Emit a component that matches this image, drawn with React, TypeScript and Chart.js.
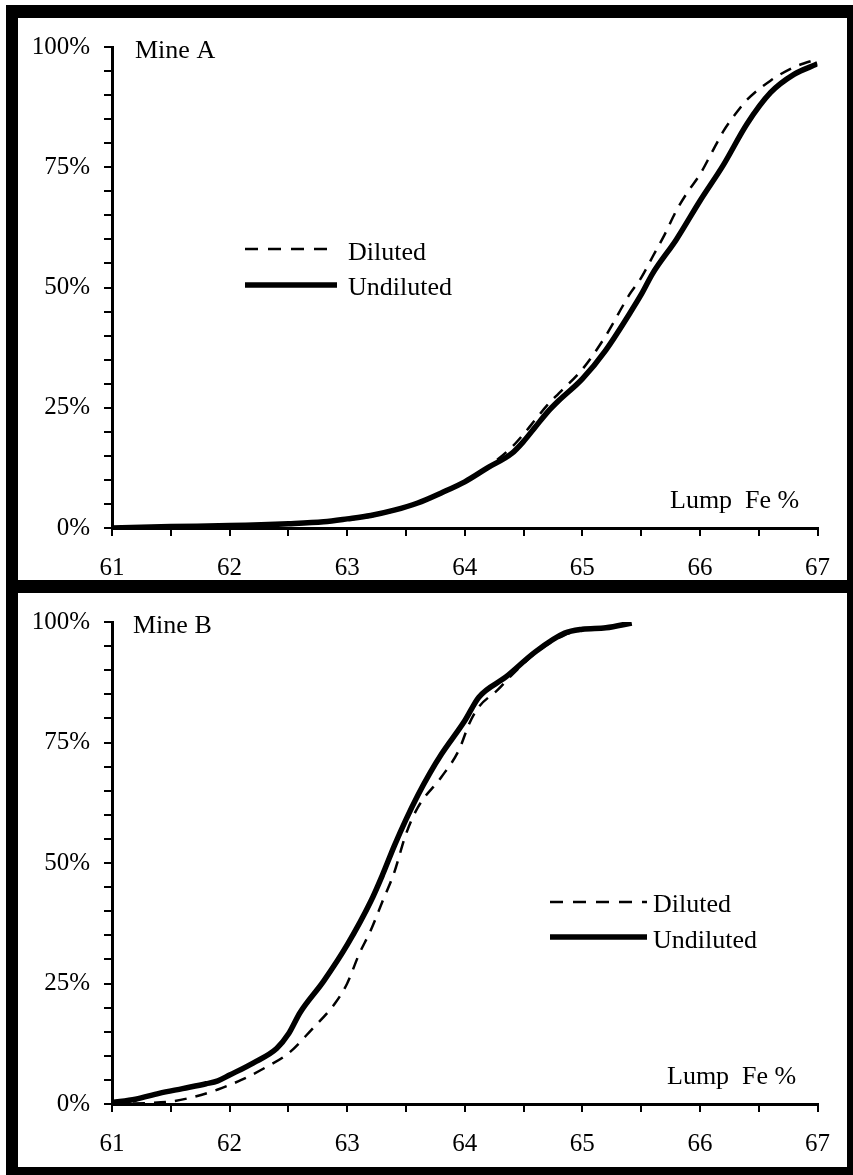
import React, { useEffect, useRef } from "react";
import { Chart, registerables } from "chart.js";

Chart.register(...registerables);

// ---------- data ----------
const xTickValues = [61, 62, 63, 64, 65, 66, 67];
const yTickValues = [0, 25, 50, 75, 100];

const mineAUndilutedFe = [61, 61.5, 62, 62.5, 62.8, 63, 63.2, 63.4, 63.6, 63.8, 64, 64.2, 64.4, 64.5, 64.6, 64.7, 64.8, 65, 65.2, 65.4, 65.5, 65.6, 65.8, 66, 66.2, 66.4, 66.6, 66.8, 67];
const mineAUndilutedPct = [0, 0.3, 0.5, 0.9, 1.3, 1.9, 2.6, 3.7, 5.2, 7.3, 9.6, 12.6, 15.5, 18, 21, 24, 26.5, 31, 37, 44.5, 48.5, 53, 60, 68, 75.5, 84, 90.5, 94.3, 96.5];

const mineADilutedFe = [61, 61.5, 62, 62.5, 62.8, 63, 63.2, 63.4, 63.6, 63.8, 64, 64.2, 64.4, 64.5, 64.6, 64.7, 64.8, 65, 65.2, 65.4, 65.5, 65.6, 65.7, 65.8, 65.9, 66, 66.1, 66.2, 66.3, 66.4, 66.6, 66.8, 67];
const mineADilutedPct = [0, 0.3, 0.5, 0.9, 1.2, 1.7, 2.4, 3.6, 5.2, 7.3, 9.6, 12.8, 16.8, 19.5, 22.5, 25.5, 28, 33, 40, 48.5, 52, 56.5, 61, 66, 70, 73.5, 78, 82.5, 86, 89, 93, 95.8, 97.5];

const mineBUndilutedFe = [61, 61.2, 61.4, 61.6, 61.8, 61.9, 62, 62.2, 62.4, 62.5, 62.6, 62.8, 63, 63.2, 63.3, 63.4, 63.5, 63.6, 63.7, 63.8, 64, 64.12, 64.35, 64.6, 64.85, 65, 65.2, 65.42];
const mineBUndilutedPct = [0.3, 1, 2.2, 3.2, 4.2, 4.8, 6, 8.5, 11.5, 14.5, 19, 25.5, 33, 42, 47.5, 53.5, 59, 64, 68.5, 72.5, 79.5, 84.4, 88.6, 93.8, 97.7, 98.5, 98.8, 99.8];

const mineBDilutedFe = [61, 61.3, 61.5, 61.7, 61.9, 62.1, 62.3, 62.5, 62.7, 62.9, 63, 63.1, 63.2, 63.3, 63.4, 63.5, 63.6, 63.8, 63.95, 64.04, 64.12, 64.28, 64.4, 64.6, 64.85, 65, 65.2, 65.4];
const mineBDilutedPct = [0, 0.2, 0.5, 1.5, 3, 5, 7.5, 10.5, 15.5, 21, 25, 31, 36, 42, 48, 56, 61.5, 67.8, 73.4, 79, 82.4, 85.9, 89, 93.5, 97.3, 98.3, 98.9, 99.6];

const seriesLabels = ["Diluted", "Undiluted"];
const panelTitles = ["Mine A", "Mine B"];
const axisTitleWords = ["Lump", "Fe %"];

// ---------- helpers ----------
const FONT = "'Liberation Serif', 'Times New Roman', serif";

function pts(xs: number[], ys: number[]) {
  return xs.map((x, i) => ({ x, y: ys[i] }));
}

type PanelLayout = {
  height: number;
  padTop: number;
  padBottom: number;
  title: [number, number];
  legendX: [number, number];
  legendDashY: number;
  legendSolidY: number;
  legendTextX: number;
  legendTextDY: [number, number];
  lumpX: [number, number];
  lumpY: number;
};

function Panel({
  undFe, undPct, dilFe, dilPct, title, layout,
}: {
  undFe: number[]; undPct: number[]; dilFe: number[]; dilPct: number[]; title: string; layout: PanelLayout;
}) {
  const ref = useRef<HTMLCanvasElement | null>(null);
  useEffect(() => {
    if (!ref.current) return;
    const annot = {
      id: "annot",
      afterDraw(chart: any) {
        const ctx = chart.ctx;
        ctx.save();
        ctx.fillStyle = "#000";
        ctx.strokeStyle = "#000";
        ctx.textBaseline = "alphabetic";
        ctx.textAlign = "left";
        ctx.font = `26px ${FONT}`;
        ctx.fillText(title, layout.title[0], layout.title[1]);
        // legend
        ctx.lineWidth = 2.5;
        ctx.setLineDash([13, 10]);
        ctx.beginPath();
        ctx.moveTo(layout.legendX[0], layout.legendDashY);
        ctx.lineTo(layout.legendX[1], layout.legendDashY);
        ctx.stroke();
        ctx.setLineDash([]);
        ctx.lineWidth = 5.5;
        ctx.beginPath();
        ctx.moveTo(layout.legendX[0], layout.legendSolidY);
        ctx.lineTo(layout.legendX[1], layout.legendSolidY);
        ctx.stroke();
        ctx.fillText(seriesLabels[0], layout.legendTextX, layout.legendDashY + layout.legendTextDY[0]);
        ctx.fillText(seriesLabels[1], layout.legendTextX, layout.legendSolidY + layout.legendTextDY[1]);
        // axis title
        ctx.fillText(axisTitleWords[0], layout.lumpX[0], layout.lumpY);
        ctx.fillText(axisTitleWords[1], layout.lumpX[1], layout.lumpY);
        ctx.restore();
      },
    };
    const chart = new Chart(ref.current, {
      type: "line",
      data: {
        datasets: [
          {
            label: seriesLabels[0],
            data: pts(dilFe, dilPct),
            borderColor: "#000",
            borderWidth: 2.5,
            borderDash: [12, 9],
            pointRadius: 0,
            fill: false,
            cubicInterpolationMode: "monotone",
          },
          {
            label: seriesLabels[1],
            data: pts(undFe, undPct),
            borderColor: "#000",
            borderWidth: 5.5,
            pointRadius: 0,
            fill: false,
            cubicInterpolationMode: "monotone",
          },
        ],
      },
      options: {
        animation: false,
        responsive: false,
        devicePixelRatio: 1,
        layout: { padding: { left: 4, right: 22, top: layout.padTop, bottom: layout.padBottom } },
        plugins: { legend: { display: false }, tooltip: { enabled: false } },
        scales: {
          x: {
            type: "linear",
            min: xTickValues[0],
            max: xTickValues[xTickValues.length - 1],
            afterFit: (s: any) => { s.height = 50; },
            border: { display: true, color: "#000", width: 3 },
            grid: { display: true, drawOnChartArea: false, drawTicks: true, tickLength: 8, lineWidth: 2, color: "#000" },
            ticks: {
              stepSize: 0.5,
              autoSkip: false,
              maxRotation: 0,
              padding: 17,
              color: "#000",
              font: { family: FONT, size: 25 },
              callback: (v: any) => (xTickValues.includes(Number(v)) ? String(v) : ""),
            },
          },
          y: {
            type: "linear",
            min: yTickValues[0],
            max: yTickValues[yTickValues.length - 1],
            afterFit: (s: any) => { s.width = 90; },
            border: { display: true, color: "#000", width: 3 },
            grid: { display: true, drawOnChartArea: false, drawTicks: true, tickLength: 8, lineWidth: 2, color: "#000" },
            ticks: {
              stepSize: 5,
              autoSkip: false,
              padding: 14,
              color: "#000",
              font: { family: FONT, size: 25 },
              callback: (v: any) => (yTickValues.includes(Number(v)) ? `${v}%` : ""),
            },
          },
        },
      },
      plugins: [annot],
    } as any);
    return () => chart.destroy();
  }, []);
  return <canvas ref={ref} width={829} height={layout.height} style={{ width: 829, height: layout.height, display: "block" }} />;
}

const layoutA: PanelLayout = {
  height: 562,
  padTop: 28,
  padBottom: 2,
  title: [117, 40],
  legendX: [227, 319],
  legendDashY: 231,
  legendSolidY: 267,
  legendTextX: 330,
  legendTextDY: [11, 10],
  lumpX: [652, 727],
  lumpY: 490,
};

const layoutB: PanelLayout = {
  height: 574,
  padTop: 29,
  padBottom: 13,
  title: [115, 40],
  legendX: [532, 629],
  legendDashY: 309,
  legendSolidY: 344,
  legendTextX: 635,
  legendTextDY: [10, 11],
  lumpX: [649, 724],
  lumpY: 491,
};

export default function App() {
  return (
    <div style={{ position: "absolute", left: 0, top: 0, width: 853, height: 1175, background: "#fff", overflow: "hidden" }}>
      <div style={{ position: "absolute", left: 6, top: 5, width: 847, height: 1170, background: "#000" }}>
        <div style={{ position: "absolute", left: 12, top: 13, width: 829, height: 562, background: "#fff" }}>
          <Panel undFe={mineAUndilutedFe} undPct={mineAUndilutedPct} dilFe={mineADilutedFe} dilPct={mineADilutedPct} title={panelTitles[0]} layout={layoutA} />
        </div>
        <div style={{ position: "absolute", left: 12, top: 588, width: 829, height: 574, background: "#fff" }}>
          <Panel undFe={mineBUndilutedFe} undPct={mineBUndilutedPct} dilFe={mineBDilutedFe} dilPct={mineBDilutedPct} title={panelTitles[1]} layout={layoutB} />
        </div>
      </div>
    </div>
  );
}
